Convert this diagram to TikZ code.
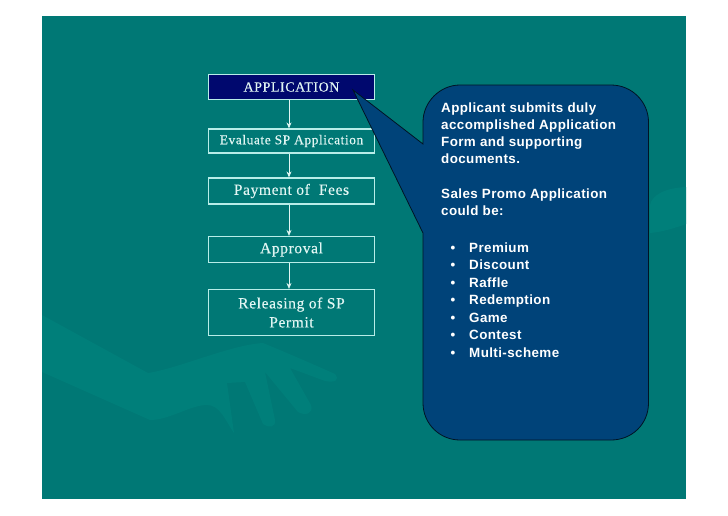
\documentclass[tikz,border=0pt]{standalone}
\usepackage{fontspec}
\usetikzlibrary{arrows.meta}
\newfontfamily\boxfont[LetterSpace=4,FakeBold=0.25]{Liberation Serif}
\newfontfamily\notefont[LetterSpace=3,BoldFont={Liberation Sans Bold}]{Liberation Sans}
\definecolor{slideteal}{HTML}{007875}
\definecolor{handteal}{HTML}{007F7A}
\definecolor{noteblue}{HTML}{004379}
\definecolor{appblue}{HTML}{00086E}
\definecolor{boxline}{HTML}{B8EDE8}
\definecolor{boxtext}{HTML}{E2F6F3}
\tikzset{
  boxstep/.style={draw=boxline, line width=1.2pt, text=boxtext, minimum width=166pt, inner sep=0pt, align=center, font=\boxfont\fontsize{15.5}{19}\selectfont},
  notetext/.style={text=white, inner sep=0pt, align=left, font=\notefont\bfseries\fontsize{13.4}{17}\selectfont},
  flow/.style={-{Stealth[length=6pt,width=5pt]}, draw=boxtext, line width=0.7pt}
}
\begin{document}
\begin{tikzpicture}[x=1pt, y=-1pt]
  \useasboundingbox (0,0) rectangle (728,515);
  \fill [slideteal] (42,15.5) rectangle (686,498.5);
  \fill [handteal] (42,315) -- (148,373) .. controls (180,368) and (230,345) .. (263,343)
        .. controls (285,352) and (315,365) .. (335,374) .. controls (340,380) and (335,383) .. (325,381)
        -- (290,368) -- (311,405) .. controls (314,414) and (305,416) .. (298,412)
        -- (265,372) -- (275,420) .. controls (276,428) and (268,428) .. (263,424)
        -- (245,382) -- (227,383) -- (234,433) .. controls (225,420) and (220,405) .. (207,405)
        .. controls (190,405) and (170,420) .. (150,420) -- (42,372) -- cycle;
  \fill [handteal] (686,187) .. controls (665,188) and (652,195) .. (650,205)
        -- (650,233) .. controls (662,232) and (675,228) .. (686,224) -- cycle;
  \coordinate (axis) at (289,0);
  \node [boxstep, fill=appblue, minimum height=25pt] (application) at (291.5,87) {\fontsize{14}{17}\selectfont APPLICATION};
  \node [boxstep, minimum height=24pt] (evaluate) at (291.5,141) {\fontsize{13.5}{17}\selectfont Evaluate SP Application};
  \node [boxstep, minimum height=26pt] (payment) at (291.5,191) {Payment of \ Fees};
  \node [boxstep, minimum height=26pt] (approval) at (291.5,249.5) {Approval};
  \node [boxstep, minimum height=46pt] (releasing) at (291.5,312.5) {Releasing of SP\\Permit};
  \draw [flow] (application.south -| axis) -- (evaluate.north -| axis);
  \draw [flow] (evaluate.south -| axis) -- (payment.north -| axis);
  \draw [flow] (payment.south -| axis) -- (approval.north -| axis);
  \draw [flow] (approval.south -| axis) -- (releasing.north -| axis);
  \draw [fill=noteblue, draw=black!70!noteblue, line width=0.8pt] (460,85) -- (611,85)
        .. controls (632,85) and (648.5,102) .. (648.5,122) -- (648.5,403)
        .. controls (648.5,424) and (632,440) .. (611,440) -- (460,440)
        .. controls (440,440) and (423,424) .. (423,403) -- (423,233)
        -- (353,90) -- (423,144) -- (423,122)
        .. controls (423,102) and (440,85) .. (460,85) -- cycle;
  \node [notetext, anchor=north west] (duties) at (441,103) {Applicant submits duly\\accomplished Application\\Form and supporting\\documents.};
  \node [notetext, anchor=north west] (kinds) at (441,189) {Sales Promo Application\\could be:};
  \foreach \kind [count=\n from 0] in {Premium,Discount,Raffle,Redemption,Game,Contest,Multi-scheme}
    \node [notetext, anchor=base west] (kind-\n) at (469,252+17.5*\n) {\llap{\textbullet\hspace{14pt}}\kind};
\end{tikzpicture}
\end{document}
